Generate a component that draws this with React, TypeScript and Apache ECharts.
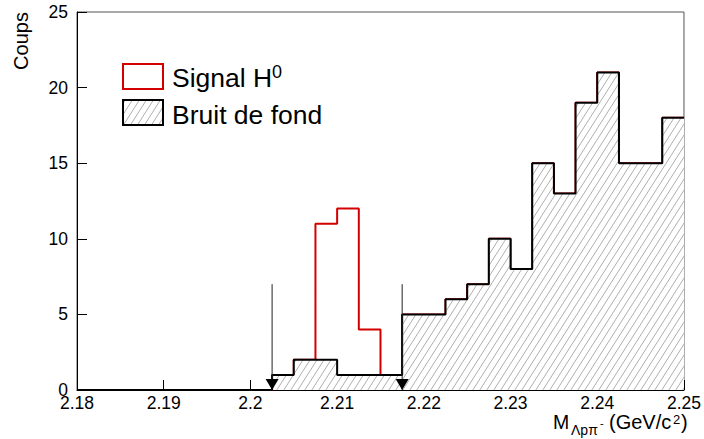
import React, { useEffect, useRef } from "react";
import * as echarts from "echarts";

// ---- data ----
const BIN_LOW = 2.18;
const BIN_WIDTH = 0.0025;
const X_MIN = 2.18;
const X_MAX = 2.25;
const X_INTERVAL = 0.01;
const Y_MIN = 0;
const Y_MAX = 25;
const Y_INTERVAL = 5;
// background (Bruit de fond) counts per bin
const BACKGROUND = [0, 0, 0, 0, 0, 0, 0, 0, 0, 1, 2, 2, 1, 1, 1, 5, 5, 6, 7, 10, 8, 15, 13, 19, 21, 15, 15, 18];
// signal H0 histogram (drawn in red, signal + background)
const SIGNAL = [0, 0, 0, 0, 0, 0, 0, 0, 0, 1, 2, 11, 12, 4, 1, 5, 5, 6, 7, 10, 8, 15, 13, 19, 21, 15, 15, 18];
// selection cuts (arrows)
const CUTS = [2.2025, 2.2175];
const ARROW_TOP = 7;

const FONT = "'Liberation Sans', Arial, Helvetica, sans-serif";
const RED = "#d40000";

function histData(values: number[]) {
  const pts: number[][] = values.map((v, i) => [+(BIN_LOW + i * BIN_WIDTH).toFixed(5), v]);
  pts.push([+(BIN_LOW + values.length * BIN_WIDTH).toFixed(5), values[values.length - 1]]);
  return pts;
}

function makeHatch() {
  const w = 7;
  const h = 11;
  const c = document.createElement("canvas");
  c.width = w;
  c.height = h;
  const ctx = c.getContext("2d")!;
  ctx.fillStyle = "#ffffff";
  ctx.fillRect(0, 0, w, h);
  ctx.strokeStyle = "#9a9a9a";
  ctx.lineWidth = 0.8;
  for (const off of [-w, 0, w]) {
    ctx.beginPath();
    ctx.moveTo(off, h);
    ctx.lineTo(off + w, 0);
    ctx.stroke();
  }
  return c;
}

export default function App() {
  const ref = useRef<HTMLDivElement>(null);

  useEffect(() => {
    if (!ref.current) return;
    const chart = echarts.init(ref.current, null, { renderer: "svg" });
    const hatch = { image: makeHatch(), repeat: "repeat" } as any;

    const option: any = {
      animation: false,
      backgroundColor: "#ffffff",
      grid: {
        left: 77,
        right: 20,
        top: 12,
        bottom: 49,
        show: true,
        borderColor: "#555",
        borderWidth: 1,
        backgroundColor: "transparent",
      },
      xAxis: {
        type: "value",
        min: X_MIN,
        max: X_MAX,
        interval: X_INTERVAL,
        axisLine: { show: true, lineStyle: { color: "#000", width: 1 } },
        axisTick: { show: true, inside: true, length: 10, lineStyle: { color: "#000", width: 1 } },
        splitLine: { show: false },
        axisLabel: {
          color: "#000",
          fontSize: 17.5,
          fontFamily: FONT,
          margin: 4,
          formatter: (v: number) => String(parseFloat(v.toFixed(3))),
        },
      },
      yAxis: {
        type: "value",
        min: Y_MIN,
        max: Y_MAX,
        interval: Y_INTERVAL,
        axisLine: { show: true, lineStyle: { color: "#000", width: 1 } },
        axisTick: { show: true, inside: true, length: 10, lineStyle: { color: "#000", width: 1 } },
        splitLine: { show: false },
        axisLabel: { color: "#000", fontSize: 17.5, fontFamily: FONT, margin: 9 },
      },
      series: [
        {
          type: "line",
          name: "Signal H0",
          data: histData(SIGNAL),
          step: "end",
          symbol: "none",
          lineStyle: { color: RED, width: 2 },
          z: 2,
        },
        {
          type: "line",
          name: "Bruit de fond",
          data: histData(BACKGROUND),
          step: "end",
          symbol: "none",
          lineStyle: { color: "#000", width: 2 },
          areaStyle: { color: hatch, opacity: 1 },
          z: 3,
        },
        {
          type: "custom",
          name: "cuts",
          data: CUTS.map((c) => [c, ARROW_TOP]),
          encode: { x: 0, y: 1 },
          z: 4,
          renderItem: (_params: any, api: any) => {
            const x = api.value(0);
            const top = api.coord([x, api.value(1)]);
            const bot = api.coord([x, 0]);
            return {
              type: "group",
              children: [
                {
                  type: "line",
                  shape: { x1: top[0], y1: top[1], x2: bot[0], y2: bot[1] },
                  style: { stroke: "#222", lineWidth: 1 },
                },
                {
                  type: "polygon",
                  shape: {
                    points: [
                      [bot[0] - 6.5, bot[1] - 11],
                      [bot[0] + 6.5, bot[1] - 11],
                      [bot[0], bot[1]],
                    ],
                  },
                  style: { fill: "#000" },
                },
              ],
            };
          },
        },
      ],
      graphic: [
        // legend
        {
          type: "rect",
          shape: { x: 123, y: 64, width: 40, height: 25 },
          style: { fill: "#fff", stroke: RED, lineWidth: 2 },
        },
        {
          type: "rect",
          shape: { x: 123, y: 100, width: 40, height: 25 },
          style: { fill: hatch, stroke: "#000", lineWidth: 2 },
        },
        {
          type: "text",
          x: 172,
          y: 77.5,
          style: { text: "Signal H", fontSize: 26.5, fontFamily: FONT, fill: "#000", verticalAlign: "middle" },
        },
        {
          type: "text",
          x: 272,
          y: 71.5,
          style: { text: "0", fontSize: 18, fontFamily: FONT, fill: "#000", verticalAlign: "middle" },
        },
        {
          type: "text",
          x: 172,
          y: 114.5,
          style: { text: "Bruit de fond", fontSize: 26.5, fontFamily: FONT, fill: "#000", verticalAlign: "middle" },
        },
        // y title
        {
          type: "text",
          x: 21,
          y: 41,
          rotation: Math.PI / 2,
          style: {
            text: "Coups",
            fontSize: 20,
            fontFamily: FONT,
            fill: "#000",
            align: "center",
            verticalAlign: "middle",
          },
        },
        // x title pieces
        {
          type: "text",
          x: 553,
          y: 421.5,
          style: { text: "M", fontSize: 19.5, fontFamily: FONT, fill: "#000", verticalAlign: "middle" },
        },
        {
          type: "text",
          x: 571,
          y: 430,
          style: { text: "Λpπ", fontSize: 14, fontFamily: FONT, fill: "#000", verticalAlign: "middle" },
        },
        {
          type: "text",
          x: 600,
          y: 423,
          style: { text: "-", fontSize: 11, fontFamily: FONT, fill: "#000", verticalAlign: "middle" },
        },
        {
          type: "text",
          x: 609,
          y: 421.5,
          style: { text: "(GeV/c", fontSize: 20, fontFamily: FONT, fill: "#000", verticalAlign: "middle" },
        },
        {
          type: "text",
          x: 673,
          y: 419,
          style: { text: "2", fontSize: 13, fontFamily: FONT, fill: "#000", verticalAlign: "middle" },
        },
        {
          type: "text",
          x: 681,
          y: 421.5,
          style: { text: ")", fontSize: 20, fontFamily: FONT, fill: "#000", verticalAlign: "middle" },
        },
      ],
    };

    chart.setOption(option);
    return () => chart.dispose();
  }, []);

  return (
    <div
      ref={ref}
      style={{ position: "fixed", left: 0, top: 0, width: 704, height: 439, background: "#fff" }}
    />
  );
}
